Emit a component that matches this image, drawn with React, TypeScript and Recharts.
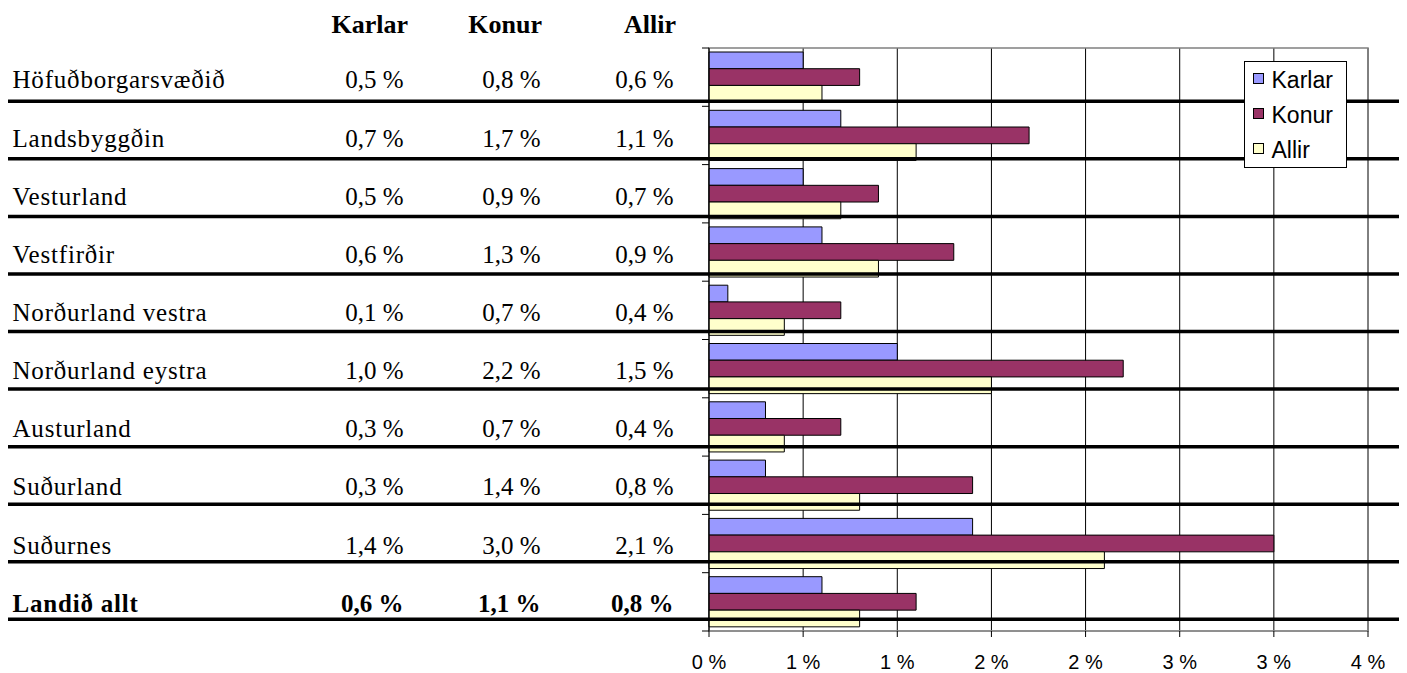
import React from "react";
import { BarChart, Bar, XAxis, YAxis, CartesianGrid, Legend, ReferenceArea } from "recharts";

const regions = [
  "Höfuðborgarsvæðið",
  "Landsbyggðin",
  "Vesturland",
  "Vestfirðir",
  "Norðurland vestra",
  "Norðurland eystra",
  "Austurland",
  "Suðurland",
  "Suðurnes",
  "Landið allt",
];
const karlar = [0.5, 0.7, 0.5, 0.6, 0.1, 1.0, 0.3, 0.3, 1.4, 0.6];
const konur = [0.8, 1.7, 0.9, 1.3, 0.7, 2.2, 0.7, 1.4, 3.0, 1.1];
const allir = [0.6, 1.1, 0.7, 0.9, 0.4, 1.5, 0.4, 0.8, 2.1, 0.8];
const seriesNames = ["Karlar", "Konur", "Allir"];
const seriesColors = ["#9999FF", "#993366", "#FFFFCC"];
const xTicks = [0, 0.5, 1, 1.5, 2, 2.5, 3, 3.5];
const xTickLabels = ["0 %", "1 %", "1 %", "2 %", "2 %", "3 %", "3 %", "4 %"];
const totalRow = "Landið allt";

const data = regions.map((name, i) => ({
  name,
  karlar: karlar[i],
  konur: konur[i],
  allir: allir[i],
}));

const W = 1399;
const H = 665;
const M = { top: 40, right: 39, bottom: 0, left: 0 };
const Y_W = 701;
const X_H = 42;
const PLOT_H = H - M.top - M.bottom - X_H;
const BAND = PLOT_H / regions.length;
const BAR_SIZE = (BAND * 0.86) / 3;
const SERIF = '"Liberation Serif", "Times New Roman", serif';
const SANS = '"Liberation Sans", Arial, sans-serif';

const fmt = (v: number) => v.toFixed(1).replace(".", ",") + " %";
const colEnds = [395.5, 532.5, 665.5];
const headEnds = [400, 534, 668];

function YTick(props: any) {
  const { y, payload } = props;
  const name = payload.value as string;
  const i = regions.indexOf(name);
  const bold = name === totalRow;
  const vals = [karlar[i], konur[i], allir[i]];
  const axisX = M.left + Y_W;
  const top = y - BAND / 2;
  const bottom = y + BAND / 2;
  const baseline = y + 11.2 - i * 0.14;
  const ruleY = y + 24.15 - i * 0.745;
  return (
    <g>
      <line x1={0} x2={1394} y1={ruleY} y2={ruleY} stroke="#000" strokeWidth={3.5} />
      <line x1={axisX - 7} x2={axisX} y1={top} y2={top} stroke="#000" strokeWidth={1} />
      {i === regions.length - 1 && (
        <line x1={axisX - 7} x2={axisX} y1={bottom} y2={bottom} stroke="#000" strokeWidth={1} />
      )}
      {i === 0 &&
        seriesNames.map((s, k) => (
          <text
            key={s}
            x={headEnds[k]}
            y={y - 44.5}
            textAnchor="end"
            fontFamily={SERIF}
            fontSize={26}
            fontWeight="bold"
            fill="#000"
          >
            {s}
          </text>
        ))}
      <text
        x={4.5}
        y={baseline}
        fontFamily={SERIF}
        fontSize={25}
        letterSpacing={0.8}
        fontWeight={bold ? "bold" : "normal"}
        fill="#000"
      >
        {name}
      </text>
      {vals.map((v, k) => (
        <text
          key={k}
          x={colEnds[k]}
          y={baseline}
          textAnchor="end"
          fontFamily={SERIF}
          fontSize={25}
          fontWeight={bold ? "bold" : "normal"}
          fill="#000"
        >
          {fmt(v)}
        </text>
      ))}
    </g>
  );
}

function XTick(props: any) {
  const { x, y, payload } = props;
  const idx = xTicks.indexOf(payload.value);
  return (
    <text x={x} y={y + 12} textAnchor="middle" fontFamily={SANS} fontSize={20} fill="#000">
      {xTickLabels[idx]}
    </text>
  );
}

function LegendBox(props: any) {
  const items = [...(props.payload || [])].sort(
    (a: any, b: any) => seriesNames.indexOf(a.value) - seriesNames.indexOf(b.value)
  );
  return (
    <div
      style={{
        width: 103,
        height: 107,
        border: "1px solid #000",
        background: "#fff",
        boxSizing: "border-box",
        fontFamily: SANS,
        fontSize: 23,
        color: "#000",
        paddingTop: 1,
      }}
    >
      {items.map((it: any) => (
        <div
          key={it.value}
          style={{ height: 35, lineHeight: "35px", display: "flex", alignItems: "center", whiteSpace: "nowrap" }}
        >
          <span
            style={{
              display: "inline-block",
              width: 11,
              height: 11,
              boxSizing: "border-box",
              border: "1px solid #000",
              background: it.color,
              marginLeft: 7.5,
              marginRight: 8,
              position: "relative",
              top: -2,
            }}
          />
          <span>{it.value}</span>
        </div>
      ))}
    </div>
  );
}

export default function App() {
  return (
    <div style={{ width: W, height: H }}>
      <BarChart
        width={W}
        height={H}
        data={data}
        layout="vertical"
        margin={M}
        barCategoryGap="14%"
        barGap={0}
      >
        <CartesianGrid horizontal={false} vertical={true} stroke="#000" strokeWidth={1} />
        <ReferenceArea x1={0} x2={3.5} fill="none" stroke="#808080" strokeWidth={1.5} />
        <XAxis
          type="number"
          domain={[0, 3.5]}
          ticks={xTicks}
          interval={0}
          height={X_H}
          tick={<XTick />}
          tickSize={6}
          tickMargin={20}
          tickLine={{ stroke: "#000" }}
          axisLine={{ stroke: "#808080" }}
        />
        <YAxis
          type="category"
          dataKey="name"
          width={Y_W}
          interval={0}
          tick={<YTick />}
          tickLine={false}
          axisLine={{ stroke: "#000" }}
        />
        <Legend
          layout="horizontal"
          verticalAlign="middle"
          align="center"
          content={<LegendBox />}
          wrapperStyle={{ position: "absolute", left: 1236, top: 53, width: 103, height: 107 }}
        />
        <Bar dataKey="karlar" name={seriesNames[0]} fill={seriesColors[0]} stroke="#000" strokeWidth={1} barSize={BAR_SIZE} isAnimationActive={false} />
        <Bar dataKey="konur" name={seriesNames[1]} fill={seriesColors[1]} stroke="#000" strokeWidth={1} barSize={BAR_SIZE} isAnimationActive={false} />
        <Bar dataKey="allir" name={seriesNames[2]} fill={seriesColors[2]} stroke="#000" strokeWidth={1} barSize={BAR_SIZE} isAnimationActive={false} />
      </BarChart>
    </div>
  );
}
